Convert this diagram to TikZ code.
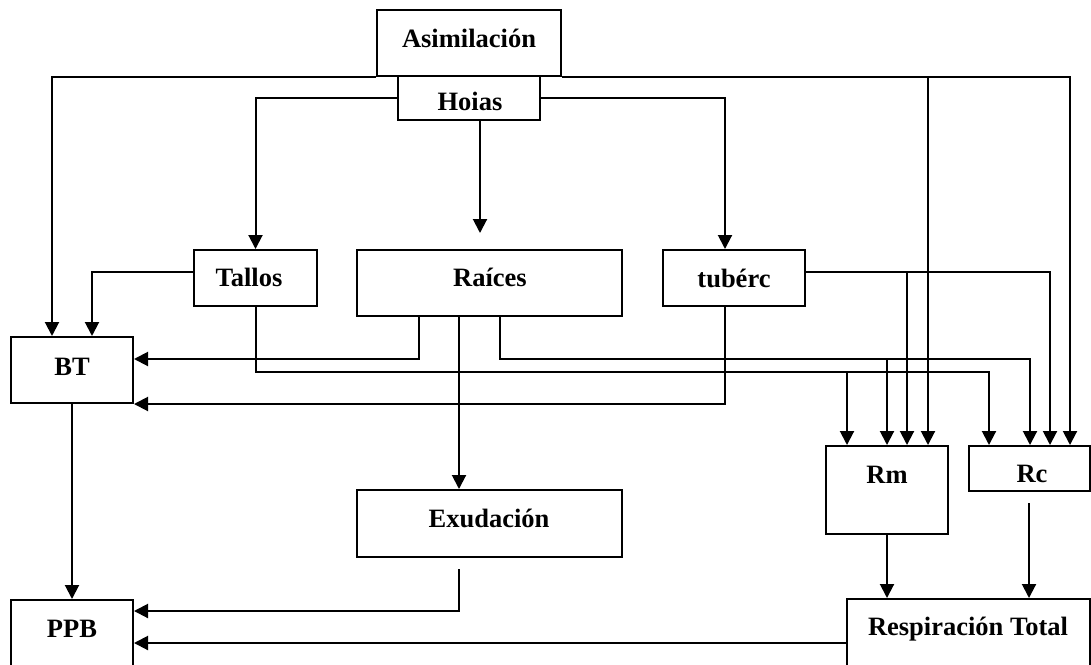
\documentclass[tikz,border=0pt]{standalone}
\usepackage{fontspec}
\setmainfont{Liberation Serif}
\usetikzlibrary{arrows.meta}
\begin{document}
\begin{tikzpicture}[x=1pt,y=-1pt,
  box/.style={draw, line width=2pt, rectangle, inner sep=0pt},
  lbl/.style={font=\fontsize{26.5}{30}\selectfont\bfseries, inner sep=0pt, anchor=base},
  arr/.style={line width=2pt, -{Triangle[length=14pt,width=14pt]}}]
\clip (0,0) rectangle (1091,664);
\fill[white] (0,0) rectangle (1091,664);

% boxes
\node[box, minimum width=184pt, minimum height=66pt] (asim)   at (469,43)      {};
\node[box, minimum width=142pt, minimum height=44pt] (hojas)  at (469,98)      {};
\node[box, minimum width=123pt, minimum height=56pt] (tallos) at (255.5,278)   {};
\node[box, minimum width=265pt, minimum height=66pt] (raices) at (489.5,283)   {};
\node[box, minimum width=142pt, minimum height=56pt] (tuberc) at (734,278)     {};
\node[box, minimum width=122pt, minimum height=66pt] (bt)     at (72,370)      {};
\node[box, minimum width=265pt, minimum height=67pt] (exud)   at (489.5,523.5) {};
\node[box, minimum width=122pt, minimum height=88pt] (rm)     at (887,490)     {};
\node[box, minimum width=121pt, minimum height=45pt] (rc)     at (1029,468.5)  {};
\node[box, minimum width=122pt, minimum height=86pt] (ppb)    at (72,643)      {};
\node[box, minimum width=243pt, minimum height=88pt] (resp)   at (968,643)     {};

% labels
\node[lbl] (tAsim)   at (469,47)  {Asimilación};
\node[lbl] (tHojas)  at (470,110) {Hoias};
\node[lbl] (tTallos) at (249,286) {Tallos};
\node[lbl] (tRaices) at (490,286) {Raíces};
\node[lbl] (tTuberc) at (734,287) {tubérc};
\node[lbl] (tBT)     at (72,375)  {BT};
\node[lbl] (tRm)     at (887,483) {Rm};
\node[lbl] (tRc)     at (1032,482) {Rc};
\node[lbl] (tExud)   at (489,527) {Exudación};
\node[lbl] (tPPB)    at (72,637)  {PPB};
\node[lbl] (tResp)   at (968,635) {Respiración Total};

% horizontal bus levels
\coordinate (tbus) at (0,372);
\coordinate (rbus) at (0,359);

% entry points on Rm and Rc
\coordinate (rm1) at ([xshift=-40pt]rm.north);
\coordinate (rm2) at (rm.north);
\coordinate (rm3) at ([xshift=20pt]rm.north);
\coordinate (rm4) at ([xshift=41pt]rm.north);
\coordinate (rc1) at ([xshift=-40pt]rc.north);
\coordinate (rc2) at ([xshift=1pt]rc.north);
\coordinate (rc3) at ([xshift=21pt]rc.north);
\coordinate (rc4) at ([xshift=41pt]rc.north);

% Asimilacion
\draw[arr] (asim.south west) -| ([xshift=-20pt]bt.north);
\draw[arr] (asim.south east) -| (rc4);
\draw[arr] (rm4 |- asim.south) -- (rm4);

% Hojas
\draw[arr] (hojas.west) -| (tallos.north);
\draw[arr] (hojas.east) -| ([xshift=-9pt]tuberc.north);
\coordinate (rtop) at ([xshift=-9.5pt,yshift=16pt]raices.north);
\draw[arr] (hojas.south -| rtop) -- (rtop);

% Tallos
\draw[arr] ([yshift=6pt]tallos.west) -| ([xshift=20pt]bt.north);
\draw[arr] (tallos.south) |- (rc1 |- tbus) -- (rc1);
\draw[arr] (rm1 |- tbus) -- (rm1);

% Raices
\draw[arr] ([xshift=-71pt]raices.south) |- ([yshift=11pt]bt.east);
\draw[arr] ([xshift=-30.5pt]raices.south) -- ([xshift=-30.5pt]exud.north);
\coordinate (r3) at ([xshift=10.5pt]raices.south);
\draw[arr] (r3) |- (rc2 |- rbus) -- (rc2);
\draw[arr] (rm2 |- rbus) -- (rm2);

% tuberc
\draw[arr] ([xshift=-9pt]tuberc.south) |- (bt.south east);
\coordinate (tuE) at ([yshift=6pt]tuberc.east);
\draw[arr] (tuE) -| (rc3);
\draw[arr] (rm3 |- tuE) -- (rm3);

% toward PPB and total respiration
\draw[arr] (bt.south) -- (ppb.north);
\draw[arr] ([xshift=-30.5pt,yshift=-11pt]exud.south) |- ([yshift=-12pt]ppb.north east);
\draw[arr] (resp.west) -- (ppb.east);
\draw[arr] (rm.south) -- (rm.south |- resp.north);
\draw[arr] ([yshift=-11pt]rc.south) -- (rc.south |- resp.north);
\end{tikzpicture}
\end{document}
